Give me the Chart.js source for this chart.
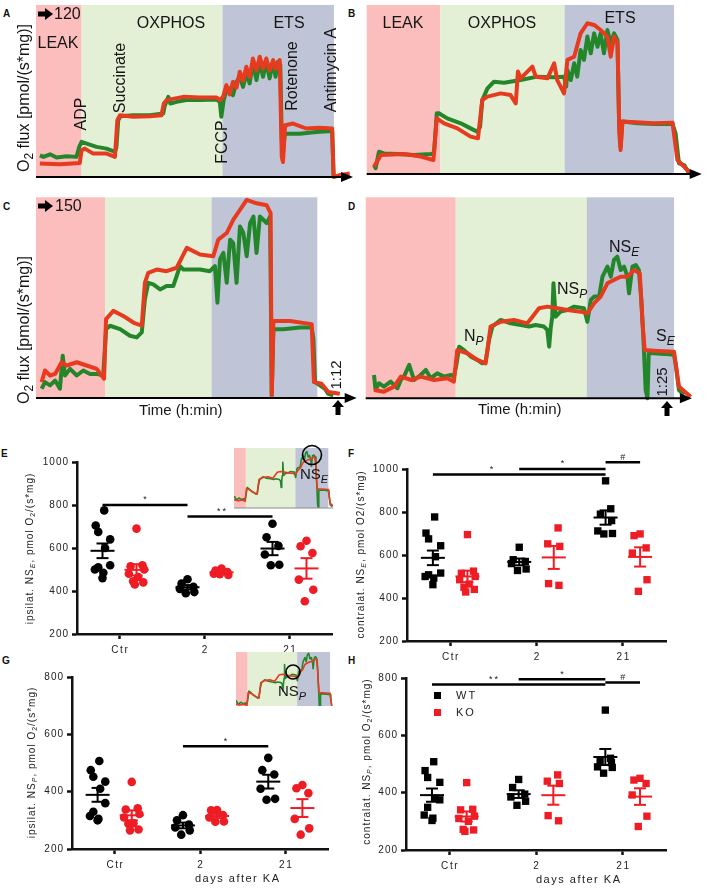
<!DOCTYPE html>
<html>
<head>
<meta charset="utf-8">
<title>O2 flux, NS_E / NS_P</title>
<script src="https://cdn.jsdelivr.net/npm/chart.js@4.4.1/dist/chart.umd.min.js"></script>
<style>
    html, body { margin: 0; padding: 0; background: #fff; }
    body { position: relative; width: 708px; height: 888px; overflow: hidden; }
    canvas { position: absolute; }
    .tag { position: absolute; font: bold 10px "Liberation Sans", Arial, sans-serif; color: #111; }
</style>
</head>
<body>
<div class="tag" style="left:3px;top:8px">A</div>
<div class="tag" style="left:348px;top:8px">B</div>
<div class="tag" style="left:3px;top:201px">C</div>
<div class="tag" style="left:348px;top:201px">D</div>
<div class="tag" style="left:1px;top:448px">E</div>
<div class="tag" style="left:348px;top:448px">F</div>
<div class="tag" style="left:2px;top:655px">G</div>
<div class="tag" style="left:348px;top:655px">H</div>

<canvas id="panelA" width="354" height="195" style="left:0;top:0"></canvas>
<canvas id="panelB" width="354" height="195" style="left:354px;top:0"></canvas>
<canvas id="panelC" width="362" height="235" style="left:0;top:190px"></canvas>
<canvas id="panelD" width="354" height="235" style="left:354px;top:190px"></canvas>
<canvas id="panelE" width="354" height="225" style="left:0;top:440px"></canvas>
<canvas id="panelF" width="354" height="225" style="left:354px;top:440px"></canvas>
<canvas id="panelG" width="354" height="233" style="left:0;top:655px"></canvas>
<canvas id="panelH" width="354" height="233" style="left:354px;top:655px"></canvas>
<canvas id="insetE" width="102" height="68" style="left:234px;top:444px"></canvas>
<canvas id="insetG" width="100" height="54" style="left:236px;top:652px"></canvas>

<script>
    const FONT = '"Liberation Sans", Arial, sans-serif';

    // oxygraph traces: [time, % of protocol length ; O2 flux, % of panel height]
    const traceA_red = [[1.3,7.8],[8.0,7.4],[14.7,8.2],[15.3,15.5],[16.4,16.5],[19.2,13.6],[23.7,13.6],[26.5,11.7],[27.3,33.0],[28.2,35.9],[32.6,35.0],[38.2,35.3],[42.1,35.9],[42.9,42.7],[43.8,44.7],[49.4,46.6],[54.9,46.2],[60.6,46.2],[61.7,44.7],[62.8,46.6],[63.9,53.4],[65.0,48.0],[66.1,55.3],[67.3,52.0],[68.4,61.2],[69.5,56.0],[70.6,64.1],[71.7,58.0],[72.8,68.9],[74.0,62.0],[75.1,69.9],[76.2,63.0],[77.3,68.9],[78.4,62.0],[79.6,68.0],[80.4,63.0],[81.8,68.0],[82.5,11.7],[82.9,8.7],[83.6,30.1],[86.3,31.1],[90.7,28.2],[95.2,28.7],[99.4,28.2],[99.9,0],[101.9,1],[105.3,2]];
    const traceA_green = [[1.3,12.6],[2.5,11.7],[4.7,13.2],[6.9,11.3],[10.3,12.0],[13.6,11.7],[14.5,17.5],[15.3,20.4],[17.0,19.4],[20.3,17.5],[23.7,16.5],[26.5,14.6],[27.0,17.5],[27.6,33.0],[28.4,35.3],[32.6,35.9],[38.2,35.9],[42.7,36.9],[43.2,41.2],[44.4,46.6],[45.1,42.7],[47.2,43.7],[50.5,44.7],[55.0,44.7],[60.6,45.0],[61.7,43.7],[62.2,35.0],[63.0,44.7],[63.9,50.5],[65.0,51.5],[66.1,47.6],[67.3,55.3],[68.4,58.3],[69.5,52.4],[70.6,60.2],[71.7,54.4],[72.8,66.0],[74.0,56.3],[75.1,67.0],[76.2,58.3],[77.3,67.0],[78.4,57.3],[79.6,67.0],[80.4,58.3],[81.2,67.0],[82.0,65.0],[82.5,21.4],[82.9,13.6],[83.5,25.2],[88.5,25.2],[94.1,26.2],[99.4,26.8],[99.9,0]];
    const traceB_red = [[2.4,4.3],[4.6,11.2],[12.1,11.8],[17.6,10.3],[21.7,8.3],[22.8,32.9],[25.2,30.0],[29.5,27.0],[33.8,22.1],[36.2,21.1],[37.6,43.8],[39.3,45.8],[43.6,47.7],[46.8,46.7],[48.5,41.8],[49.2,60.6],[50.1,56.6],[53.9,63.5],[55.0,57.6],[58.8,56.6],[61.0,65.5],[62.0,55.6],[64.2,47.7],[65.3,67.5],[67.5,69.4],[69.6,83.2],[71.8,89.2],[74.0,88.2],[76.1,85.2],[78.3,81.3],[79.4,69.4],[80.5,81.3],[81.6,77.3],[82.2,24.1],[82.6,14.2],[83.2,31.0],[93.5,30.0],[99.5,30.4],[101.1,8.3],[103.3,4.3],[105.4,0.4]];
    const traceB_green = [[2.4,5.3],[2.9,3.4],[4.0,13.2],[5.6,12.2],[10.0,11.8],[15.4,11.2],[20.8,11.8],[21.9,12.2],[22.8,35.9],[23.5,35.9],[26.2,32.9],[30.6,30.0],[33.8,27.0],[36.0,25.0],[36.9,28.0],[37.6,43.8],[39.3,50.7],[41.4,54.6],[44.7,54.0],[50.1,55.6],[55.5,57.6],[61.0,57.2],[64.2,57.6],[64.9,51.7],[65.3,61.5],[66.4,55.6],[67.5,65.5],[68.5,57.6],[69.6,73.4],[70.7,67.5],[71.8,81.3],[72.9,71.4],[74.0,83.2],[75.1,75.3],[76.1,83.2],[77.2,71.4],[78.3,85.2],[79.4,77.3],[80.5,83.2],[81.6,79.3],[82.1,32.0],[82.6,16.2],[83.2,31.0],[88.1,30.0],[93.5,29.6],[99.5,29.6],[100.5,24.1],[101.6,6.3],[103.3,5.3],[104.9,0.4]];
    const traceC_red = [[2.0,7.9],[3.2,13.7],[5.0,11.2],[6.8,12.0],[9.1,17.8],[10.9,16.2],[14.5,17.8],[18.0,16.2],[21.6,14.5],[24.2,9.6],[24.9,39.3],[27.5,43.4],[31.0,40.9],[34.6,37.6],[37.6,36.0],[38.7,57.4],[39.9,62.4],[42.9,64.0],[46.4,63.2],[50.0,64.9],[53.6,74.8],[58.3,71.5],[63.0,70.6],[64.8,78.9],[67.8,82.2],[70.1,88.8],[72.5,93.7],[74.9,98.7],[78.4,97.0],[82.0,96.0],[83.4,92.1],[83.8,1.3],[84.4,38.4],[90.3,38.4],[98.0,36.8],[98.8,7.9],[101.5,7.1],[103.9,3.0],[108.0,2.1]];
    const traceC_green = [[2.0,4.6],[3.2,7.9],[5.0,6.3],[6.8,8.7],[8.5,4.6],[9.5,21.1],[10.3,11.2],[12.1,14.5],[14.5,11.2],[16.8,13.7],[19.2,12.0],[21.6,12.0],[23.9,11.2],[24.9,34.3],[26.3,36.0],[29.9,34.3],[33.4,31.0],[35.8,30.2],[37.6,32.7],[38.7,49.2],[39.9,57.4],[41.7,56.6],[44.1,54.1],[46.4,55.8],[48.8,55.8],[51.2,65.7],[52.4,64.0],[54.7,64.0],[58.3,64.0],[61.8,63.2],[63.6,65.7],[64.5,47.5],[65.4,69.0],[66.6,72.3],[67.8,57.4],[69.0,78.9],[70.1,77.2],[71.3,57.4],[72.5,85.5],[73.7,82.2],[74.9,70.6],[76.1,87.1],[77.3,90.4],[78.4,72.3],[79.6,90.4],[80.8,88.8],[82.0,87.1],[83.2,90.4],[83.8,1.3],[84.4,34.3],[87.9,34.3],[93.8,35.1],[98.0,35.1],[98.6,29.4],[99.2,7.9],[100.9,6.3],[102.7,4.6],[103.9,2.1],[105.7,1.3]];
    const traceD_red = [[2.7,4.1],[5.9,3.3],[9.2,5.8],[11.4,10.8],[14.8,9.1],[17.8,10.8],[22.2,9.1],[26.5,10.0],[28.6,8.3],[29.7,24.0],[33.0,22.4],[36.2,19.1],[38.9,17.4],[40.5,35.7],[43.8,38.1],[48.1,39.0],[52.4,37.3],[54.1,40.6],[56.2,44.8],[58.9,45.6],[62.2,44.8],[65.4,43.9],[69.7,43.1],[71.9,42.3],[74.1,47.3],[76.2,50.6],[78.4,57.2],[80.5,58.9],[82.7,60.5],[84.9,60.5],[87.0,63.8],[88.9,62.2],[89.8,37.3],[90.5,24.0],[93.5,23.7],[100.0,23.2],[101.6,5.8],[105.4,0.8]];
    const traceD_green = [[2.7,11.6],[3.2,4.1],[4.3,7.5],[5.9,5.8],[8.1,8.3],[10.3,5.0],[11.4,9.1],[12.4,10.8],[14.1,16.6],[15.7,9.1],[17.8,11.6],[19.5,14.1],[21.1,10.0],[23.2,12.4],[25.4,10.8],[27.6,11.6],[28.6,10.8],[29.5,17.4],[30.3,25.7],[31.9,24.0],[34.1,20.7],[36.2,19.1],[37.8,17.4],[38.9,18.2],[40.0,29.0],[41.1,35.7],[43.8,39.0],[47.0,37.3],[50.3,36.5],[53.0,35.7],[55.1,36.5],[57.8,35.7],[58.9,34.0],[59.5,25.7],[60.0,34.8],[60.5,40.6],[60.9,57.2],[61.6,40.6],[63.2,43.1],[65.4,43.9],[67.6,45.6],[70.8,44.8],[71.9,38.1],[73.0,48.9],[74.1,50.6],[75.7,50.6],[76.8,60.5],[78.4,65.5],[79.5,60.5],[80.5,68.8],[81.6,70.5],[82.7,63.8],[83.8,65.5],[84.9,60.5],[85.4,52.2],[86.5,65.5],[87.6,66.3],[88.6,63.8],[89.4,48.9],[90.1,29.0],[90.8,4.1],[91.4,0],[91.8,22.4],[93.5,22.4],[96.8,22.1],[100.0,21.6],[100.5,17.4],[101.6,4.1],[103.2,1.7]];

    // LEAK | OXPHOS | ETS boundaries, same time units
    const bandsA = [0, 15.3, 62.6, 100];
    const bandsB = [0, 23.9, 64.4, 100];
    const bandsC = [0, 24.6, 62.4, 100];
    const bandsD = [0, 29.2, 71.7, 100];

    // NS_E / NS_P, pmol O2/(s*mg), per group: Ctr, 2 and 21 days after KA
    const groups = ['Ctr', '2', '21'];
    const ipsiNSE_WT = [[775, 705, 675, 640, 600, 520, 510, 500, 485, 460], [455, 435, 420, 410, 395, 390], [713, 650, 610, 570, 522, 520]];
    const ipsiNSE_KO = [[690, 520, 515, 500, 480, 465, 445, 440, 430], [505, 495, 488, 480, 475, 478], [634, 608, 577, 453, 406, 352]];
    const contraNSE_WT = [[777, 702, 675, 643, 592, 516, 508, 500, 493, 462], [636, 578, 570, 560, 535, 528], [945, 815, 790, 760, 712, 700, 698]];
    const contraNSE_KO = [[695, 525, 515, 500, 485, 465, 450, 440, 428], [726, 652, 640, 467, 459], [698, 690, 633, 609, 485, 431]];
    const ipsiNSP_WT = [[507, 475, 452, 435, 410, 360, 330, 315, 305, 300], [318, 300, 285, 275, 265, 250], [518, 475, 460, 410, 375, 372]];
    const ipsiNSP_KO = [[434, 342, 338, 322, 310, 290, 288, 268, 265], [336, 335, 318, 310, 296, 295], [423, 412, 395, 305, 272, 250]];
    const contraNSP_WT = [[508, 477, 453, 436, 380, 375, 349, 322, 311, 303], [446, 418, 395, 385, 370, 356], [688, 520, 512, 505, 490, 488, 468]];
    const contraNSP_KO = [[435, 342, 340, 318, 310, 300, 272, 270, 265], [462, 440, 432, 320, 302], [450, 444, 432, 392, 318, 282]];

    const RED = '#e63b1f';
    const GREEN = '#24862a';
    const DOT_RED = '#ee1c24';
    const BAND_COLORS = ['#fcbdbd', '#e3f0d5', '#bfc5d7'];
    // horizontal spread of the dots inside a group, by group size
    const JITTER = {
        5: [0.05, -0.07, 0.07, -0.06, 0.06],
        6: [0.0, -0.07, 0.07, -0.09, 0.08, -0.02],
        7: [0.0, 0.06, -0.06, 0.07, -0.09, 0.08, -0.02],
        9: [0.0, 0.07, -0.07, 0.09, -0.09, 0.02, -0.04, 0.08, -0.02],
        10: [0.02, -0.08, -0.05, 0.09, 0.03, 0.09, -0.05, -0.09, 0.01, 0.0],
    };

    const extras = {};

    // text with sub/italic parts, optional letter spacing and 90° rotation
    function richText(ctx, parts, x, y, size, opt = {}) {
        const spacing = opt.spacing || 0;
        ctx.save();
        ctx.translate(x, y);
        if (opt.rot) {
            ctx.rotate(-Math.PI / 2);
        }
        ctx.fillStyle = opt.color || '#151515';
        ctx.textBaseline = 'middle';
        ctx.textAlign = 'left';
        const fontFor = (p) => {
            const style = p[1] || '';
            const sub = style.startsWith('sub');
            return `${style.includes('I') ? 'italic ' : ''}${sub ? Math.round(size * 0.72) : size}px ${FONT}`;
        };
        const widthOf = (p) => {
            ctx.font = fontFor(p);
            return [...p[0]].reduce((w, ch) => w + ctx.measureText(ch).width + spacing, 0);
        };
        const total = parts.reduce((w, p) => w + widthOf(p), 0) - spacing;
        let cx = opt.left ? 0 : opt.right ? -total : -total / 2;
        parts.forEach((p) => {
            ctx.font = fontFor(p);
            const dy = (p[1] || '').startsWith('sub') ? size * 0.32 : 0;
            if (!spacing) {
                ctx.fillText(p[0], cx, dy);
                cx += ctx.measureText(p[0]).width;
                return;
            }
            [...p[0]].forEach((ch) => {
                ctx.fillText(ch, cx, dy);
                cx += ctx.measureText(ch).width + spacing;
            });
        });
        ctx.restore();
    }

    function rightArrow(ctx, x, y) {
        ctx.fillStyle = '#000';
        ctx.fillRect(x, y - 2.5, 8, 5);
        ctx.beginPath();
        ctx.moveTo(x + 7, y - 6);
        ctx.lineTo(x + 15, y);
        ctx.lineTo(x + 7, y + 6);
        ctx.closePath();
        ctx.fill();
    }

    function upArrow(ctx, x, y) {
        ctx.fillStyle = '#000';
        ctx.beginPath();
        ctx.moveTo(x, y);
        ctx.lineTo(x + 6, y + 7);
        ctx.lineTo(x - 6, y + 7);
        ctx.closePath();
        ctx.fill();
        ctx.fillRect(x - 2.5, y + 6, 5, 9);
    }

    const tracePlugin = {
        id: 'trace',
        beforeDatasetsDraw(chart) {
            const cfg = extras[chart.canvas.id];
            const { ctx, chartArea: a, scales: { x, y } } = chart;
            const base = y.getPixelForValue(0);
            ctx.save();
            BAND_COLORS.forEach((c, i) => {
                const x0 = x.getPixelForValue(cfg.bands[i]);
                const x1 = x.getPixelForValue(cfg.bands[i + 1]);
                ctx.fillStyle = c;
                ctx.fillRect(x0, a.top, x1 - x0, base - a.top);
            });
            ctx.restore();
        },
        afterDatasetsDraw(chart) {
            const cfg = extras[chart.canvas.id];
            const { ctx, chartArea: a, scales: { y } } = chart;
            const base = y.getPixelForValue(0);
            ctx.save();
            if (cfg.thinAxis) {
                ctx.strokeStyle = '#8a8a8a';
                ctx.lineWidth = 1;
                ctx.beginPath();
                ctx.moveTo(a.left, base);
                ctx.lineTo(a.right, base);
                ctx.stroke();
            } else if (cfg.axis) {
                ctx.strokeStyle = '#000';
                ctx.lineWidth = 2;
                ctx.beginPath();
                ctx.moveTo(a.left, base);
                ctx.lineTo(a.right - 8, base);
                ctx.stroke();
                ctx.fillStyle = '#000';
                ctx.beginPath();
                ctx.moveTo(a.right - 12, base - 5);
                ctx.lineTo(a.right, base);
                ctx.lineTo(a.right - 12, base + 5);
                ctx.closePath();
                ctx.fill();
            }
            ctx.restore();
        },
        afterDraw(chart) {
            const cfg = extras[chart.canvas.id];
            const ctx = chart.ctx;
            ctx.save();
            ctx.translate(-cfg.origin[0], -cfg.origin[1]);
            (cfg.texts || []).forEach((t) => richText(ctx, t.parts, t.x, t.y, t.size, t));
            (cfg.rightArrows || []).forEach((p) => rightArrow(ctx, p[0], p[1]));
            (cfg.upArrows || []).forEach((p) => upArrow(ctx, p[0], p[1]));
            (cfg.circles || []).forEach((c) => {
                ctx.strokeStyle = '#000';
                ctx.lineWidth = 1.6;
                ctx.beginPath();
                ctx.arc(c[0], c[1], c[2], 0, Math.PI * 2);
                ctx.stroke();
            });
            ctx.restore();
        },
    };

    function traceChart(id, red, green, cfg) {
        extras[id] = cfg;
        const width = cfg.lineWidth || 4;
        const line = (rows, color) => ({
            data: rows.map((r) => ({ x: r[0], y: r[1] })),
            borderColor: color,
            borderWidth: width,
            pointRadius: 0,
            tension: 0,
            borderJoinStyle: 'round',
            clip: cfg.clip === undefined ? 6 : cfg.clip,
        });
        new Chart(document.getElementById(id), {
            type: 'line',
            data: { datasets: [line(red, RED), line(green, GREEN)] },
            options: {
                responsive: false,
                animation: false,
                devicePixelRatio: 1,
                layout: { padding: cfg.padding },
                plugins: { legend: { display: false }, tooltip: { enabled: false } },
                scales: {
                    x: { type: 'linear', display: false, min: cfg.xMin || 0, max: cfg.xMax },
                    y: { type: 'linear', display: false, min: cfg.yMin || 0, max: cfg.yMax || 100 },
                },
            },
            plugins: [tracePlugin],
        });
    }

    const mean = (vals) => vals.reduce((s, v) => s + v, 0) / vals.length;
    const sem = (vals) => {
        const m = mean(vals);
        const sd = Math.sqrt(vals.reduce((s, v) => s + (v - m) ** 2, 0) / (vals.length - 1));
        return sd / Math.sqrt(vals.length);
    };

    const dotPlugin = {
        id: 'dots',
        afterDatasetsDraw(chart) {
            const cfg = extras[chart.canvas.id];
            const { ctx, scales: { x, y } } = chart;
            const seg = (x0, y0, x1, y1) => {
                ctx.beginPath();
                ctx.moveTo(x0, y0);
                ctx.lineTo(x1, y1);
                ctx.stroke();
            };
            ctx.save();
            ctx.lineWidth = 2;
            cfg.sets.forEach((set) => {
                ctx.strokeStyle = set.color;
                set.values.forEach((vals, g) => {
                    const m = mean(vals);
                    const se = sem(vals);
                    const cx = x.getPixelForValue(g + set.shift);
                    const yM = y.getPixelForValue(m);
                    const yT = y.getPixelForValue(m + se);
                    const yB = y.getPixelForValue(m - se);
                    seg(cx - 12, yM, cx + 12, yM);
                    seg(cx, yT, cx, yB);
                    seg(cx - 6, yT, cx + 6, yT);
                    seg(cx - 6, yB, cx + 6, yB);
                });
            });
            ctx.strokeStyle = '#000';
            ctx.lineWidth = 2.5;
            cfg.sig.forEach((s) => {
                const x0 = x.getPixelForValue(s.from);
                const x1 = x.getPixelForValue(s.to);
                const yy = y.getPixelForValue(s.y);
                seg(x0, yy, x1, yy);
                const mx = s.markAt === undefined ? (x0 + x1) / 2 : x.getPixelForValue(s.markAt);
                richText(ctx, [[s.mark]], mx, yy - 5, 9, { spacing: 2, color: '#222' });
            });
            ctx.restore();
        },
        afterDraw(chart) {
            const cfg = extras[chart.canvas.id];
            const { ctx, chartArea: a, scales: { x, y } } = chart;
            ctx.save();
            x.ticks.forEach((t) => {
                richText(ctx, [[groups[t.value]]], x.getPixelForValue(t.value), a.bottom + 16, 10, { spacing: 1.6, color: '#222' });
            });
            y.ticks.forEach((t) => {
                richText(ctx, [[String(t.value)]], a.left - 9, y.getPixelForValue(t.value), 10, { spacing: 1, color: '#222', right: true });
            });
            ctx.translate(-cfg.origin[0], -cfg.origin[1]);
            richText(ctx, cfg.yTitle.parts, cfg.yTitle.x, cfg.yTitle.y, 10, { rot: true, spacing: 1, color: '#222' });
            if (cfg.xTitle) {
                richText(ctx, [[cfg.xTitle.text]], cfg.xTitle.x, cfg.xTitle.y, 11, { spacing: 1.5, color: '#222' });
            }
            if (cfg.legend) {
                chart.data.datasets.forEach((ds, i) => {
                    const [lx, ly] = cfg.legend;
                    ctx.fillStyle = ds.backgroundColor;
                    ctx.fillRect(lx, ly + i * 17, 7, 7);
                    richText(ctx, [[ds.label]], lx + 22, ly + 4 + i * 17, 11, { left: true, spacing: 2, color: '#222' });
                });
            }
            ctx.restore();
        },
    };

    function dotChart(id, wt, ko, cfg) {
        const shiftWT = -0.2;
        const shiftKO = 0.2;
        cfg.sets = [
            { values: wt, shift: shiftWT, color: '#000' },
            { values: ko, shift: shiftKO, color: DOT_RED },
        ];
        extras[id] = cfg;
        const pts = (sets, shift) =>
            sets.flatMap((vals, g) => vals.map((v, i) => ({ x: g + shift + JITTER[vals.length][i], y: v })));
        const style = cfg.square ? 'rect' : 'circle';
        const radius = cfg.square ? 5.2 : 4.3;
        const axisGrid = { drawOnChartArea: false, drawTicks: true, tickLength: 5, tickWidth: 2.5, tickColor: '#111' };
        new Chart(document.getElementById(id), {
            type: 'scatter',
            data: {
                datasets: [
                    { label: 'WT', data: pts(wt, shiftWT), backgroundColor: '#000', borderWidth: 0, pointStyle: style, pointRadius: radius },
                    { label: 'KO', data: pts(ko, shiftKO), backgroundColor: DOT_RED, borderWidth: 0, pointStyle: style, pointRadius: radius },
                ],
            },
            options: {
                responsive: false,
                animation: false,
                devicePixelRatio: 1,
                layout: { padding: cfg.padding },
                plugins: { legend: { display: false }, tooltip: { enabled: false } },
                scales: {
                    x: {
                        type: 'linear',
                        min: -0.5,
                        max: 2.5,
                        afterBuildTicks: (scale) => {
                            scale.ticks = groups.map((_, i) => ({ value: i }));
                        },
                        afterFit: (scale) => {
                            scale.height = 20;
                        },
                        ticks: { display: false },
                        grid: axisGrid,
                        border: { color: '#111', width: 2.5 },
                    },
                    y: {
                        type: 'linear',
                        min: 200,
                        max: cfg.yMax,
                        afterFit: (scale) => {
                            scale.width = 40;
                        },
                        ticks: { display: false, stepSize: 200 },
                        grid: axisGrid,
                        border: { color: '#111', width: 2.5 },
                    },
                },
            },
            plugins: [dotPlugin],
        });
    }

    const FLUX_TITLE = [['O'], ['2', 'sub'], [' flux [pmol/(s*mg)]']];

    traceChart('panelA', traceA_red, traceA_green, {
        origin: [0, 0],
        padding: { left: 36, top: 5, right: 1, bottom: 18 },
        xMax: 106.4,
        bands: bandsA,
        axis: true,
        rightArrows: [[38, 14]],
        texts: [
            { parts: [['120']], x: 54, y: 15, size: 16, left: true },
            { parts: [['LEAK']], x: 58, y: 44, size: 16 },
            { parts: [['OXPHOS']], x: 171, y: 24, size: 16 },
            { parts: [['ETS']], x: 289, y: 24, size: 16 },
            { parts: [['ADP']], x: 82, y: 114, size: 16, rot: true },
            { parts: [['Succinate']], x: 121, y: 78, size: 16, rot: true },
            { parts: [['FCCP']], x: 223, y: 142, size: 16, rot: true },
            { parts: [['Rotenone']], x: 293, y: 76, size: 16, rot: true },
            { parts: [['Antimycin A']], x: 332, y: 70, size: 16, rot: true },
            { parts: FLUX_TITLE, x: 25, y: 98, size: 16, rot: true },
        ],
    });

    traceChart('panelB', traceB_red, traceB_green, {
        origin: [354, 0],
        padding: { left: 12.7, top: 5, right: 6.3, bottom: 21 },
        xMax: 109,
        bands: bandsB,
        axis: true,
        texts: [
            { parts: [['LEAK']], x: 403, y: 24, size: 16 },
            { parts: [['OXPHOS']], x: 502, y: 24, size: 16 },
            { parts: [['ETS']], x: 620, y: 19, size: 16 },
        ],
    });

    traceChart('panelC', traceC_red, traceC_green, {
        origin: [0, 190],
        padding: { left: 36, top: 7.3, right: 5.3, bottom: 27 },
        xMax: 114,
        bands: bandsC,
        axis: true,
        rightArrows: [[38, 206]],
        upArrows: [[338, 400]],
        texts: [
            { parts: [['150']], x: 55, y: 207, size: 16, left: true },
            { parts: FLUX_TITLE, x: 25, y: 330, size: 16, rot: true },
            { parts: [['1:12']], x: 337, y: 375, size: 15, rot: true },
            { parts: [['Time (h:min)']], x: 181, y: 411, size: 15 },
        ],
    });

    traceChart('panelD', traceD_red, traceD_green, {
        origin: [354, 190],
        padding: { left: 11.7, top: 7.3, right: 16.1, bottom: 26.7 },
        xMax: 105.8,
        bands: bandsD,
        axis: true,
        upArrows: [[667, 401]],
        texts: [
            { parts: [['N'], ['P', 'subI']], x: 464, y: 337, size: 16, left: true },
            { parts: [['NS'], ['P', 'subI']], x: 557, y: 290, size: 16, left: true },
            { parts: [['NS'], ['E', 'subI']], x: 609, y: 248, size: 16, left: true },
            { parts: [['S'], ['E', 'subI']], x: 656, y: 337, size: 16, left: true },
            { parts: [['1:25']], x: 663, y: 382, size: 15, rot: true },
            { parts: [['Time (h:min)']], x: 520, y: 410, size: 15 },
        ],
    });

    dotChart('panelE', ipsiNSE_WT, ipsiNSE_KO, {
        origin: [0, 440],
        padding: { left: 37, top: 22, right: 22, bottom: 11 },
        yMax: 1000,
        sig: [
            { from: -0.2, to: 0.8, y: 800, mark: '*' },
            { from: 0.8, to: 1.8, y: 747, mark: '**', markAt: 1.2 },
        ],
        yTitle: { parts: [['ipsilat. NS'], ['E', 'subI'], [', pmol O'], ['2', 'sub'], ['/(s*mg)']], x: 30, y: 549 },
    });

    dotChart('panelF', contraNSE_WT, contraNSE_KO, {
        origin: [354, 440],
        padding: { left: 13, top: 29, right: 42, bottom: 4 },
        yMax: 1000,
        square: true,
        sig: [
            { from: -0.2, to: 1.8, y: 974, mark: '*', markAt: 0.48 },
            { from: 0.8, to: 1.8, y: 1000, mark: '*' },
            { from: 1.8, to: 2.2, y: 1031, mark: '#' },
        ],
        yTitle: { parts: [['contralat. NS'], ['E', 'subI'], [', pmol O2/(s*mg)']], x: 361, y: 555 },
    });

    dotChart('panelG', ipsiNSP_WT, ipsiNSP_KO, {
        origin: [0, 655],
        padding: { left: 32, top: 22, right: 26, bottom: 19 },
        yMax: 800,
        sig: [{ from: 0.8, to: 1.8, y: 558, mark: '*' }],
        yTitle: { parts: [['ipsilat. NS'], ['P', 'subI'], [', pmol O'], ['2', 'sub'], ['/(s*mg)']], x: 32, y: 763 },
        xTitle: { text: 'days after KA', x: 237, y: 879 },
    });

    dotChart('panelH', contraNSP_WT, contraNSP_KO, {
        origin: [354, 655],
        padding: { left: 12, top: 23, right: 42, bottom: 18 },
        yMax: 800,
        square: true,
        sig: [
            { from: -0.2, to: 1.8, y: 777, mark: '**', markAt: 0.51 },
            { from: 0.8, to: 1.8, y: 796, mark: '*' },
            { from: 1.8, to: 2.2, y: 784, mark: '#' },
        ],
        legend: [434, 692],
        yTitle: { parts: [['contralat. NS'], ['P', 'subI'], [', pmol O'], ['2', 'sub'], ['/(s*mg)']], x: 367, y: 762 },
        xTitle: { text: 'days after KA', x: 578, y: 880 },
    });

    traceChart('insetE', traceD_red, traceD_green, {
        origin: [234, 444],
        padding: { left: 0, top: 4, right: 3, bottom: 4 },
        xMin: 19,
        xMax: 104,
        yMax: 75,
        bands: bandsD,
        thinAxis: true,
        lineWidth: 1.6,
        clip: 0,
        circles: [[312, 455, 9.5]],
        texts: [{ parts: [['NS'], ['E', 'subI']], x: 300, y: 475, size: 15, left: true }],
    });

    traceChart('insetG', traceD_red, traceD_green, {
        origin: [236, 652],
        padding: { left: 0, top: 0, right: 3, bottom: 0 },
        xMin: 19.2,
        xMax: 102.5,
        yMin: 8,
        yMax: 72,
        bands: bandsD,
        lineWidth: 1.6,
        clip: 0,
        circles: [[293, 672, 7]],
        texts: [{ parts: [['NS'], ['P', 'subI']], x: 278, y: 692, size: 15, left: true }],
    });
</script>
</body>
</html>
